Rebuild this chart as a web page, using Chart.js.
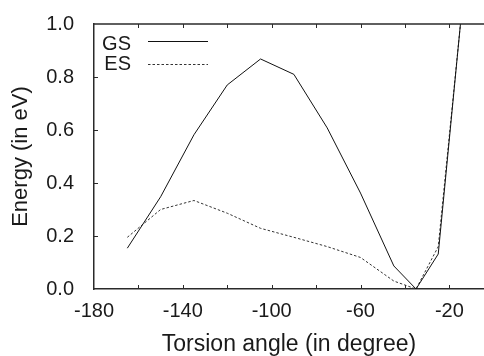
<!DOCTYPE html>
<html>
<head>
<meta charset="utf-8">
<script src="https://cdn.jsdelivr.net/npm/chart.js@4"></script>
<style>
  html, body { margin: 0; padding: 0; background: #fff; }
  #wrap { width: 484px; height: 356px; }
</style>
</head>
<body>
<div id="wrap"><canvas id="c" width="484" height="356"></canvas></div>
<script>
const angles = [-165, -150, -135, -120, -105, -90, -75, -60, -45, -35, -25, -15];
const gsValues = [0.154, 0.348, 0.582, 0.770, 0.868, 0.810, 0.608, 0.362, 0.087, 0.0, 0.132, 1.0];
const esValues = [0.195, 0.300, 0.334, 0.286, 0.229, 0.195, 0.160, 0.119, 0.030, 0.0, 0.160, 1.0];
const xTickLabels = [-180, -140, -100, -60, -20];
const seriesNames = ['GS', 'ES'];

const FONT = "'Liberation Sans', Arial, Helvetica, sans-serif";
const TEXT = '#1a1a1a';
const AXIS = '#2a2a2a';

function pts(vals) { return angles.map((a, i) => ({ x: a, y: vals[i] })); }

const framePlugin = {
  id: 'frame',
  afterDraw(chart) {
    const { ctx, chartArea: ca, scales: { x, y } } = chart;
    ctx.save();
    ctx.strokeStyle = AXIS;
    ctx.lineWidth = 1.5;
    ctx.beginPath();
    ctx.moveTo(ca.left, ca.top);
    ctx.lineTo(ca.right, ca.top);
    ctx.stroke();
    ctx.lineWidth = 1;
    const tl = 4;
    x.ticks.forEach(t => {
      if (t.value <= x.min) return;
      const px = Math.round(x.getPixelForValue(t.value)) + 0.5;
      ctx.beginPath();
      ctx.moveTo(px, ca.bottom); ctx.lineTo(px, ca.bottom - tl);
      ctx.moveTo(px, ca.top); ctx.lineTo(px, ca.top + tl);
      ctx.stroke();
    });
    y.ticks.forEach(t => {
      if (t.value <= y.min || t.value >= y.max) return;
      const py = Math.round(y.getPixelForValue(t.value)) + 0.5;
      ctx.beginPath();
      ctx.moveTo(ca.left, py); ctx.lineTo(ca.left + tl, py);
      ctx.stroke();
    });
    const rows = [{ ty: 50, ly: 41 }, { ty: 70, ly: 64 }];
    chart.data.datasets.forEach((ds, i) => {
      const r = rows[i];
      ctx.fillStyle = TEXT;
      ctx.font = '20px ' + FONT;
      ctx.textAlign = 'right';
      ctx.textBaseline = 'alphabetic';
      ctx.fillText(ds.label, 131, r.ty);
      ctx.strokeStyle = ds.borderColor;
      ctx.lineWidth = ds.borderWidth;
      ctx.setLineDash(ds.borderDash || []);
      ctx.beginPath();
      ctx.moveTo(148, r.ly + 0.5); ctx.lineTo(208, r.ly + 0.5);
      ctx.stroke();
      ctx.setLineDash([]);
    });
    ctx.restore();
  }
};

new Chart(document.getElementById('c'), {
  type: 'line',
  data: {
    datasets: [
      { label: seriesNames[0], data: pts(gsValues), borderColor: '#111', borderWidth: 1,
        pointRadius: 0, tension: 0, fill: false },
      { label: seriesNames[1], data: pts(esValues), borderColor: '#333', borderWidth: 1,
        borderDash: [2.5, 2], pointRadius: 0, tension: 0, fill: false }
    ]
  },
  options: {
    responsive: false,
    animation: false,
    layout: { padding: 0 },
    plugins: { legend: { display: false }, tooltip: { enabled: false } },
    scales: {
      x: {
        type: 'linear', min: -180, max: -4.4,
        grid: { display: false },
        border: { display: true, color: AXIS, width: 1.5 },
        ticks: {
          stepSize: 20, includeBounds: false, autoSkip: false, maxRotation: 0,
          padding: 2, color: TEXT, font: { family: FONT, size: 20 },
          callback: v => xTickLabels.includes(v) ? String(v) : ''
        },
        title: { display: true, text: 'Torsion angle (in degree)', color: TEXT,
          font: { family: FONT, size: 23, lineHeight: 1 }, padding: { top: 0, bottom: 0 } },
        afterFit: s => { s.height = 67; }
      },
      y: {
        min: 0, max: 1,
        grid: { display: false },
        border: { display: true, color: AXIS, width: 1.5 },
        ticks: {
          stepSize: 0.2, padding: 12, color: TEXT, font: { family: FONT, size: 20 },
          callback: v => Number(v).toFixed(1)
        },
        title: { display: true, text: 'Energy (in eV)', color: TEXT,
          font: { family: FONT, size: 22, lineHeight: 1 }, padding: { top: 9.7, bottom: 0 } },
        afterFit: s => { s.width = 94; }
      }
    }
  },
  plugins: [framePlugin]
});
</script>
</body>
</html>
